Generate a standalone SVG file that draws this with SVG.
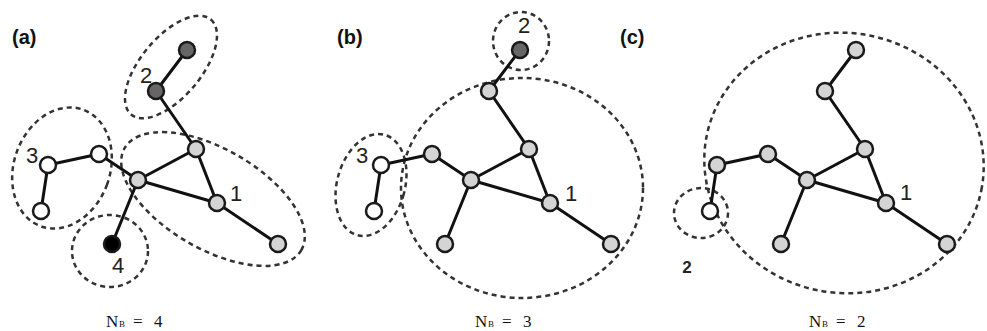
<svg xmlns="http://www.w3.org/2000/svg" width="987" height="331" viewBox="0 0 987 331">
<style>
.e{stroke:#111;stroke-width:3;fill:none;stroke-linecap:round}
.n{stroke:#1a1a1a;stroke-width:2.5}
.lg{fill:#d4d4d4}.wh{fill:#fff}.dk{fill:#666}.bk{fill:#000}
.bx{fill:none;stroke:#333;stroke-width:2.5;stroke-dasharray:5 4}
.lab{font-family:"Liberation Sans",Arial,sans-serif;font-size:22px;fill:#222;text-anchor:middle}
.pl{font-family:"Liberation Sans",Arial,sans-serif;font-size:20px;font-weight:bold;fill:#111}
.nb{font-family:"Liberation Serif","Times New Roman",serif;font-size:17px;fill:#111}
.sub{font-size:9px}
</style>
<rect width="987" height="331" fill="#fff"/>

<!-- Panel (a) -->
<g id="panel-a">
<text class="pl" x="12" y="44">(a)</text>
<g id="boxes-a">
<ellipse class="bx" cx="171" cy="67" rx="62" ry="30" transform="rotate(-50 171 67)"/>
<ellipse class="bx" cx="62" cy="168" rx="48" ry="62" transform="rotate(20 62 168)"/>
<ellipse class="bx" cx="110" cy="251" rx="38" ry="36"/>
<ellipse class="bx" cx="213" cy="199" rx="102" ry="50" transform="rotate(30 213 199)"/>
</g>
<g id="connectors-a">
<line class="e" x1="187" y1="50" x2="156" y2="91"/>
<line class="e" x1="156" y1="91" x2="196" y2="149"/>
<line class="e" x1="196" y1="149" x2="138" y2="180"/>
<line class="e" x1="196" y1="149" x2="217" y2="203"/>
<line class="e" x1="138" y1="180" x2="217" y2="203"/>
<line class="e" x1="217" y1="203" x2="278" y2="244"/>
<line class="e" x1="138" y1="180" x2="99" y2="154"/>
<line class="e" x1="99" y1="154" x2="48" y2="165"/>
<line class="e" x1="48" y1="165" x2="41" y2="211"/>
<line class="e" x1="138" y1="180" x2="112" y2="244"/>
</g>
<g id="a-n1"><circle class="n dk" cx="187" cy="50" r="8"/></g>
<g id="a-n2"><circle class="n dk" cx="156" cy="91" r="8"/></g>
<g id="a-n3"><circle class="n lg" cx="196" cy="149" r="8"/></g>
<g id="a-n4"><circle class="n lg" cx="138" cy="180" r="8"/></g>
<g id="a-n5"><circle class="n lg" cx="217" cy="203" r="8"/></g>
<g id="a-n6"><circle class="n lg" cx="278" cy="244" r="8"/></g>
<g id="a-n7"><circle class="n wh" cx="99" cy="154" r="8"/></g>
<g id="a-n8"><circle class="n wh" cx="48" cy="165" r="8"/></g>
<g id="a-n9"><circle class="n wh" cx="41" cy="211" r="8"/></g>
<g id="a-n10"><circle class="n bk" cx="112" cy="244" r="8"/></g>
<text class="lab" x="146" y="83">2</text>
<text class="lab" x="32" y="163">3</text>
<text class="lab" x="236" y="201">1</text>
<text class="lab" x="118" y="273">4</text>
<text class="nb" y="327"><tspan x="106">N</tspan><tspan class="sub" x="119">B</tspan><tspan x="133">=</tspan><tspan x="154">4</tspan></text>
</g>

<!-- Panel (b) -->
<g id="panel-b">
<text class="pl" x="337" y="44">(b)</text>
<g id="boxes-b">
<ellipse class="bx" cx="521" cy="41" rx="28" ry="29"/>
<ellipse class="bx" cx="371" cy="185" rx="34" ry="52" transform="rotate(15 371 185)"/>
<ellipse class="bx" cx="522" cy="188" rx="121" ry="110"/>
</g>
<g transform="translate(333 0)">
<g id="connectors-b">
<line class="e" x1="187" y1="50" x2="156" y2="91"/>
<line class="e" x1="156" y1="91" x2="196" y2="149"/>
<line class="e" x1="196" y1="149" x2="138" y2="180"/>
<line class="e" x1="196" y1="149" x2="217" y2="203"/>
<line class="e" x1="138" y1="180" x2="217" y2="203"/>
<line class="e" x1="217" y1="203" x2="278" y2="244"/>
<line class="e" x1="138" y1="180" x2="99" y2="154"/>
<line class="e" x1="99" y1="154" x2="48" y2="165"/>
<line class="e" x1="48" y1="165" x2="41" y2="211"/>
<line class="e" x1="138" y1="180" x2="112" y2="244"/>
</g>
<g id="b-n1"><circle class="n dk" cx="187" cy="50" r="8"/></g>
<g id="b-n2"><circle class="n lg" cx="156" cy="91" r="8"/></g>
<g id="b-n3"><circle class="n lg" cx="196" cy="149" r="8"/></g>
<g id="b-n4"><circle class="n lg" cx="138" cy="180" r="8"/></g>
<g id="b-n5"><circle class="n lg" cx="217" cy="203" r="8"/></g>
<g id="b-n6"><circle class="n lg" cx="278" cy="244" r="8"/></g>
<g id="b-n7"><circle class="n lg" cx="99" cy="154" r="8"/></g>
<g id="b-n8"><circle class="n wh" cx="48" cy="165" r="8"/></g>
<g id="b-n9"><circle class="n wh" cx="41" cy="211" r="8"/></g>
<g id="b-n10"><circle class="n lg" cx="112" cy="244" r="8"/></g>
</g>
<text class="lab" x="524" y="33">2</text>
<text class="lab" x="362" y="163">3</text>
<text class="lab" x="571" y="201">1</text>
<text class="nb" y="327"><tspan x="475">N</tspan><tspan class="sub" x="488">B</tspan><tspan x="502">=</tspan><tspan x="523">3</tspan></text>
</g>

<!-- Panel (c) -->
<g id="panel-c">
<text class="pl" x="620" y="44">(c)</text>
<g id="boxes-c">
<ellipse class="bx" cx="844" cy="163" rx="140" ry="130" transform="rotate(10 844 163)"/>
<ellipse class="bx" cx="701" cy="213" rx="27" ry="25"/>
</g>
<g transform="translate(669 0)">
<g id="connectors-c">
<line class="e" x1="187" y1="50" x2="156" y2="91"/>
<line class="e" x1="156" y1="91" x2="196" y2="149"/>
<line class="e" x1="196" y1="149" x2="138" y2="180"/>
<line class="e" x1="196" y1="149" x2="217" y2="203"/>
<line class="e" x1="138" y1="180" x2="217" y2="203"/>
<line class="e" x1="217" y1="203" x2="278" y2="244"/>
<line class="e" x1="138" y1="180" x2="99" y2="154"/>
<line class="e" x1="99" y1="154" x2="48" y2="165"/>
<line class="e" x1="48" y1="165" x2="41" y2="211"/>
<line class="e" x1="138" y1="180" x2="112" y2="244"/>
</g>
<g id="c-n1"><circle class="n lg" cx="187" cy="50" r="8"/></g>
<g id="c-n2"><circle class="n lg" cx="156" cy="91" r="8"/></g>
<g id="c-n3"><circle class="n lg" cx="196" cy="149" r="8"/></g>
<g id="c-n4"><circle class="n lg" cx="138" cy="180" r="8"/></g>
<g id="c-n5"><circle class="n lg" cx="217" cy="203" r="8"/></g>
<g id="c-n6"><circle class="n lg" cx="278" cy="244" r="8"/></g>
<g id="c-n7"><circle class="n lg" cx="99" cy="154" r="8"/></g>
<g id="c-n8"><circle class="n lg" cx="48" cy="165" r="8"/></g>
<g id="c-n9"><circle class="n wh" cx="41" cy="211" r="8"/></g>
<g id="c-n10"><circle class="n lg" cx="112" cy="244" r="8"/></g>
</g>
<text class="lab" x="906" y="200">1</text>
<text class="lab" x="687" y="273" style="font-size:17px;font-weight:bold">2</text>
<text class="nb" y="327"><tspan x="809">N</tspan><tspan class="sub" x="822">B</tspan><tspan x="836">=</tspan><tspan x="857">2</tspan></text>
</g>
</svg>
